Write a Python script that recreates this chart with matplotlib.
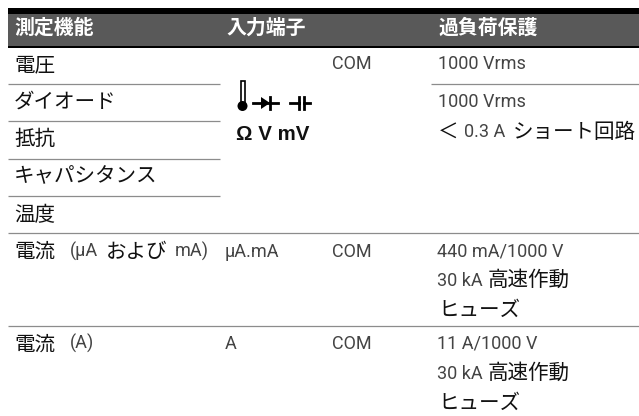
import matplotlib
matplotlib.use("Agg")
import matplotlib.pyplot as plt
from matplotlib.patches import Rectangle, Polygon, Circle

W, H = 639, 416
JP = 'Noto Sans CJK JP'
LAT = 'Roboto'

# text segments: (text, x, baseline, font key)
header = [("測定機能", 14, 34), ("入力端子", 226, 34), ("過負荷保護", 438, 34)]
function_col = [
    ("電圧", 14, 71, 'j'), ("ダイオード", 14, 108, 'j'), ("抵抗", 14, 145, 'j'),
    ("キャパシタンス", 14, 182, 'j'), ("温度", 14, 221, 'j'),
    ("電流", 14, 258, 'j'), ("(μA", 70, 257, 'l'), ("および", 106, 258, 'j'),
    ("mA)", 175, 257, 'l'),
    ("電流", 14, 351, 'j'), ("(A)", 70, 349, 'l'),
]
terminal_col = [
    ("COM", 332, 69, 'l'), ("μA.mA", 225, 257, 'l'), ("COM", 332, 257, 'l'),
    ("A", 225, 349, 'l'), ("COM", 332, 349, 'l'),
]
protection_col = [
    ("1000 Vrms", 438, 69, 'l'), ("1000 Vrms", 438, 107, 'l'),
    ("＜", 438, 138, 'j'), ("0.3 A", 464, 137, 'l'), ("ショート回路", 513, 138, 'j'),
    ("440 mA/1000 V", 437, 257, 'l'), ("30 kA", 437, 286, 'l'), ("高速作動", 488, 286, 'j'),
    ("ヒューズ", 438, 316, 'j'),
    ("11 A/1000 V", 437, 349, 'l'), ("30 kA", 437, 379, 'l'), ("高速作動", 488, 379, 'j'),
    ("ヒューズ", 438, 409, 'j'),
]
thin_rules = [(83.5, 8, 220), (121, 8, 220), (158.5, 8, 220), (195.5, 8, 220),
              (83.5, 431, 639), (233, 8, 639), (326, 8, 639)]

fig = plt.figure(figsize=(W / 100, H / 100), dpi=100)
ax = fig.add_axes([0, 0, 1, 1])
ax.set_xlim(0, W)
ax.set_ylim(H, 0)
ax.axis('off')

ax.add_patch(Rectangle((8, 8), W - 8, 6, fc='black', lw=0))
ax.add_patch(Rectangle((8, 14), W - 8, 32, fc='#595959', lw=0))
ax.add_patch(Rectangle((8, 46), W - 8, 2, fc='black', lw=0))
for y, x0, x1 in thin_rules:
    ax.plot([x0, x1], [y, y], color='#8c8c8c', lw=0.9, solid_capstyle='butt')

for t, x, y in header:
    ax.text(x, y, t, family=JP, weight='bold', fontsize=14.3, color='white', va='baseline')

for t, x, y, k in function_col + terminal_col + protection_col:
    if k == 'j':
        ax.text(x, y, t, family=JP, fontsize=14.8, color='#111111', va='baseline')
    else:
        ax.text(x, y, t, family=LAT, fontsize=13, color='#444444', va='baseline')

# input terminal symbols
ax.add_patch(Rectangle((240.5, 80.5), 4, 25, fc='white', ec='black', lw=1.2))
ax.add_patch(Circle((242.5, 106), 5, fc='black', lw=0))
ax.plot([253, 278], [103, 103], color='black', lw=2.0)
ax.add_patch(Polygon([[261, 97], [261, 109], [270, 103]], fc='black', lw=0))
ax.plot([270, 270], [97, 109], color='black', lw=2.0)
ax.plot([290, 299], [103, 103], color='black', lw=2.0)
ax.plot([299, 299], [97, 109], color='black', lw=2.0)
ax.plot([304, 304], [97, 109], color='black', lw=2.0)
ax.plot([304, 310], [103, 103], color='black', lw=2.0)
ax.text(236, 140, "Ω V mV", family='Liberation Sans', weight='bold', fontsize=14.8, color='#111111', va='baseline')

fig.savefig('out.png', dpi=100)
